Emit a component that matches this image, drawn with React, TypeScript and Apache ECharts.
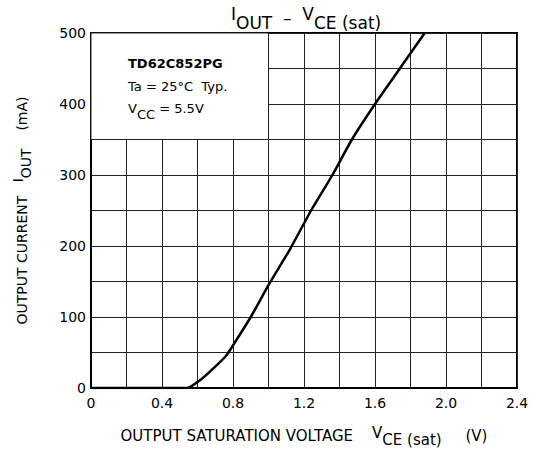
import React, { useEffect, useRef } from "react";
import * as echarts from "echarts";

// Curve: I_OUT (mA) vs V_CE(sat) (V)
const vceSat = [0, 0.54, 0.62, 0.7, 0.76, 0.8, 0.9, 1.0, 1.12, 1.24, 1.36, 1.47, 1.6, 1.74, 1.88];
const iOut = [0, 0, 12, 30, 45, 60, 100, 145, 195, 250, 300, 350, 400, 450, 500];

const xTickLabels = ["0", "0.4", "0.8", "1.2", "1.6", "2.0", "2.4"];
const yTickLabels = ["0", "100", "200", "300", "400", "500"];

const FONT = "DejaVu Sans";

export default function App() {
  const ref = useRef<HTMLDivElement>(null);
  useEffect(() => {
    if (!ref.current) return;
    const chart = echarts.init(ref.current, undefined, { renderer: "svg" });
    const data = vceSat.map((v, i) => [v, iOut[i]]);
    const richFor = (fs: number) => ({
      m: { fontFamily: FONT, fontSize: fs, color: "#000", lineHeight: 16, verticalAlign: "top" },
      s: { fontFamily: FONT, fontSize: fs, color: "#000", lineHeight: 22, verticalAlign: "bottom" },
    });
    chart.setOption({
      animation: false,
      backgroundColor: "#fff",
      textStyle: { fontFamily: FONT, color: "#000" },
      title: {
        left: 226,
        top: 0,
        text: "{m|I}{s|OUT}{sp|  –  }{m|V}{s|CE (sat)}",
        textStyle: {
          fontWeight: "normal",
          rich: {
            m: { fontFamily: FONT, fontSize: 17, fontWeight: "normal", color: "#000", lineHeight: 20, verticalAlign: "top" },
            s: { fontFamily: FONT, fontSize: 17, fontWeight: "normal", color: "#000", lineHeight: 26, verticalAlign: "bottom" },
            sp: { fontFamily: FONT, fontSize: 17, fontWeight: "normal", color: "#000", lineHeight: 23, verticalAlign: "middle" },
          },
        },
      },
      grid: {
        left: 91,
        right: 24,
        top: 33,
        bottom: 69,
        show: true,
        borderColor: "#000",
        borderWidth: 2,
      },
      xAxis: {
        type: "value",
        min: 0,
        max: 2.4,
        interval: 0.2,
        name: "OUTPUT SATURATION VOLTAGE    {m|V}{s|CE (sat)}     (V)",
        nameLocation: "middle",
        nameGap: 37,
        nameTextStyle: {
          fontFamily: FONT,
          fontSize: 15,
          color: "#000",
          lineHeight: 22,
          verticalAlign: "top",
          rich: richFor(15),
        },
        axisLine: { show: true, lineStyle: { color: "#000", width: 2 } },
        axisTick: { show: false },
        axisLabel: {
          fontFamily: FONT,
          fontSize: 14,
          color: "#000",
          margin: 8,
          formatter: (v: number) => {
            const k = Math.round(v * 10);
            if (k % 4 !== 0) return "";
            return xTickLabels[k / 4];
          },
        },
        splitLine: { show: true, lineStyle: { color: "#222", width: 1 } },
      },
      yAxis: {
        type: "value",
        min: 0,
        max: 500,
        interval: 50,
        name: "OUTPUT CURRENT   {m|I}{s|OUT}    (mA)",
        nameLocation: "middle",
        nameGap: 58,
        nameRotate: 90,
        nameTextStyle: {
          fontFamily: FONT,
          fontSize: 14,
          color: "#000",
          lineHeight: 22,
          rich: richFor(14),
        },
        axisLine: { show: true, lineStyle: { color: "#000", width: 2 } },
        axisTick: { show: false },
        axisLabel: {
          fontFamily: FONT,
          fontSize: 14,
          color: "#000",
          margin: 5,
          formatter: (v: number) => {
            const k = Math.round(v / 50);
            if (k % 2 !== 0) return "";
            return yTickLabels[k / 2];
          },
        },
        splitLine: { show: true, lineStyle: { color: "#222", width: 1 } },
      },
      series: [
        {
          type: "line",
          data,
          symbol: "none",
          smooth: 0.2,
          lineStyle: { color: "#000", width: 2.5 },
          z: 3,
          markArea: {
            silent: true,
            itemStyle: { color: "#fff", borderColor: "#222", borderWidth: 1 },
            data: [[{ coord: [0, 350] }, { coord: [1.0, 500] }]],
          },
        },
      ],
      graphic: [
        {
          type: "text",
          left: 128,
          top: 57,
          z: 10,
          style: { text: "TD62C852PG", fontFamily: FONT, fontSize: 13, fontWeight: "bold", fill: "#000" },
        },
        {
          type: "text",
          left: 128,
          top: 80,
          z: 10,
          style: { text: "Ta = 25°C  Typ.", fontFamily: FONT, fontSize: 13, fill: "#000" },
        },
        {
          type: "text",
          left: 128,
          top: 102,
          z: 10,
          style: {
            text: "{m|V}{s|CC}{n| = 5.5V}",
            rich: {
              m: { fontFamily: FONT, fontSize: 13, fill: "#000", lineHeight: 16, verticalAlign: "top" },
              s: { fontFamily: FONT, fontSize: 13, fill: "#000", lineHeight: 19, verticalAlign: "bottom" },
              n: { fontFamily: FONT, fontSize: 13, fill: "#000", lineHeight: 17, verticalAlign: "top" },
            },
          },
        },
      ],
    });
    return () => chart.dispose();
  }, []);
  return <div ref={ref} style={{ width: 541, height: 457, position: "absolute", left: 0, top: 0 }} />;
}
